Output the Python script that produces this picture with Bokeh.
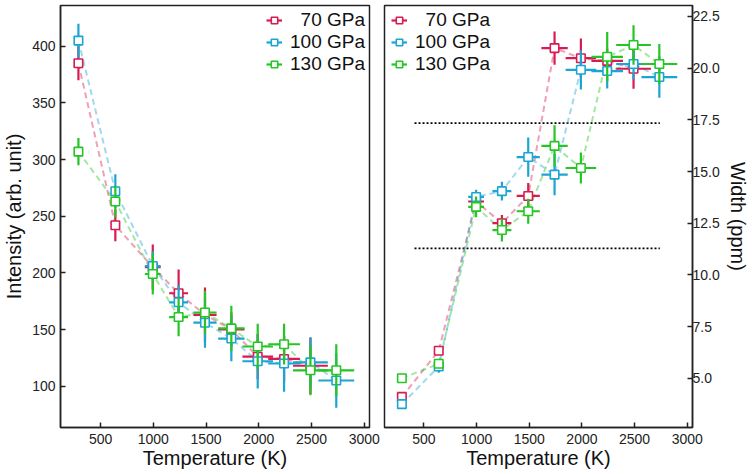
import numpy as np
from bokeh.plotting import figure
from bokeh.models import FixedTicker, PrintfTickFormatter, Legend, LegendItem
from bokeh.layouts import row
from bokeh.embed import file_html
from bokeh.resources import INLINE

# ---------------- data ----------------
labels = ["\u200770 GPa", "100 GPa", "130 GPa"]
temps = [290, 640, 995, 1240, 1490, 1740, 1990, 2240, 2490, 2735]
temp_err = [20, 30, 75, 90, 110, 125, 145, 150, 165, 170]

int_70 = [385, 242, 205, 182, 163, 150, 126, 124, 118]
int_70_err = [15, 14, 20, 21, 24, 15, 20, 20, 25]
int_100 = [405, 272, 206, 174, 156, 142, 122, 120, 121, 105]
int_100_err = [15, 15, 13, 15, 22, 20, 24, 25, 22, 24]
int_130 = [307, 263, 199, 161, 165, 151, 135, 137, 114, 114]
int_130_err = [12, 14, 18, 17, 19, 20, 20, 18, 22, 23]

wid_70 = [4.1, 6.33, 13.55, 12.5, 13.82, 20.97, 20.48, 20.35, 19.97]
wid_70_err = [0.1, 0.15, 0.2, 0.4, 0.63, 0.8, 0.95, 0.6, 0.97]
wid_100 = [3.75, 5.57, 13.77, 14.05, 15.7, 14.85, 19.92, 19.86, 20.2, 19.57]
wid_100_err = [0.1, 0.3, 0.35, 0.45, 0.95, 1.0, 0.95, 0.85, 0.75, 1.0]
wid_130 = [5.0, 5.7, 13.29, 12.17, 13.08, 16.24, 15.17, 20.55, 21.12, 20.2]
wid_130_err = [0.1, 0.2, 0.5, 0.55, 0.6, 1.0, 0.75, 1.2, 0.95, 0.97]

ref_levels = [17.34, 11.28]
ref_span = [410, 2740]

x_ticks = [500, 1000, 1500, 2000, 2500, 3000]
int_ticks = [100, 150, 200, 250, 300, 350, 400]
wid_ticks = [5.0, 7.5, 10.0, 12.5, 15.0, 17.5, 20.0, 22.5]

colors = ["#d81b50", "#1ba5d3", "#25c525"]
FONT = "Liberation Sans"


def style_axes(p):
    for ax in p.axis:
        ax.major_tick_in = 5
        ax.major_tick_out = 0
        ax.minor_tick_line_color = None
        ax.major_tick_line_width = 1.5
        ax.major_tick_line_color = "#222222"
        ax.axis_line_color = "#222222"
        ax.axis_line_width = 1.5
        ax.major_label_text_font = FONT
        ax.major_label_text_font_size = "14px"
        ax.major_label_text_color = "#222222"
        ax.axis_label_text_font = FONT
        ax.axis_label_text_font_size = "20px"
        ax.axis_label_text_font_style = "normal"
        ax.axis_label_text_color = "#111111"
    p.xgrid.visible = False
    p.ygrid.visible = False
    p.outline_line_color = "#222222"
    p.outline_line_width = 1.5
    p.background_fill_color = "white"
    p.border_fill_color = "white"


def draw_series(p, ys_list, errs_list):
    # dashed connectors first
    for ys, c in zip(ys_list, colors):
        n = len(ys)
        p.line(temps[:n], ys, line_color=c, line_alpha=0.42, line_width=2, line_dash="6 4")
    items = []
    for ys, es, c, lab in zip(ys_list, errs_list, colors, labels):
        n = len(ys)
        t = np.array(temps[:n], dtype=float)
        te = np.array(temp_err[:n], dtype=float)
        y = np.array(ys, dtype=float)
        e = np.array(es, dtype=float)
        p.segment(x0=t, y0=y - e, x1=t, y1=y + e, line_color=c, line_width=2.2)
        hs = p.segment(x0=t - te, y0=y, x1=t + te, y1=y, line_color=c, line_width=2.2)
        r = p.scatter(t, y, marker="square", size=8.5, fill_color="white",
                      line_color=c, line_width=1.6)
        items.append(LegendItem(label=lab, renderers=[hs, r]))
    return items


def make_legend(items, loc):
    lg = Legend(items=items, location=loc)
    lg.label_text_font = FONT
    lg.label_text_font_size = "19px"
    lg.label_text_color = "#111111"
    lg.glyph_width = 16
    lg.glyph_height = 18
    lg.label_height = 18
    lg.label_standoff = 8
    lg.spacing = 0
    lg.padding = 4
    lg.margin = 4
    lg.border_line_color = None
    lg.background_fill_alpha = 0
    return lg


# ---------------- left panel ----------------
p1 = figure(width=381, height=471, x_range=(120, 3050), y_range=(63.5, 436),
            output_backend="svg", toolbar_location=None,
            min_border_left=60, min_border_right=12, min_border_top=5, min_border_bottom=43)
p1.xaxis.axis_label = "Temperature (K)"
p1.yaxis.axis_label = "Intensity (arb. unit)"
p1.xaxis.ticker = FixedTicker(ticks=x_ticks)
p1.yaxis.ticker = FixedTicker(ticks=int_ticks)
style_axes(p1)
p1.xaxis.major_label_standoff = 6
p1.xaxis.axis_label_standoff = 0
p1.yaxis.major_label_standoff = 5
p1.yaxis.axis_label_standoff = 4
items1 = draw_series(p1, [int_70, int_100, int_130], [int_70_err, int_100_err, int_130_err])
p1.add_layout(make_legend(items1, "top_right"), "center")

# ---------------- right panel ----------------
p2 = figure(width=370, height=471, x_range=(125, 3050), y_range=(2.62, 23.03),
            y_axis_location="right",
            output_backend="svg", toolbar_location=None,
            min_border_left=3, min_border_right=58, min_border_top=5, min_border_bottom=43)
p2.xaxis.axis_label = "Temperature (K)"
p2.yaxis.axis_label = "Width (ppm)"
p2.xaxis.ticker = FixedTicker(ticks=x_ticks)
p2.yaxis.ticker = FixedTicker(ticks=wid_ticks)
p2.yaxis.formatter = PrintfTickFormatter(format="%.1f")
style_axes(p2)
p2.xaxis.major_label_standoff = 6
p2.xaxis.axis_label_standoff = 0
p2.yaxis.major_label_standoff = 0
p2.yaxis.axis_label_standoff = 4
for lvl in ref_levels:
    p2.line(ref_span, [lvl, lvl], line_color="black", line_width=1.8, line_dash="2 2")
items2 = draw_series(p2, [wid_70, wid_100, wid_130], [wid_70_err, wid_100_err, wid_130_err])
p2.add_layout(make_legend(items2, (7, 352)), "center")

layout = row(p1, p2)
open("out.html", "w").write(file_html(layout, INLINE))
